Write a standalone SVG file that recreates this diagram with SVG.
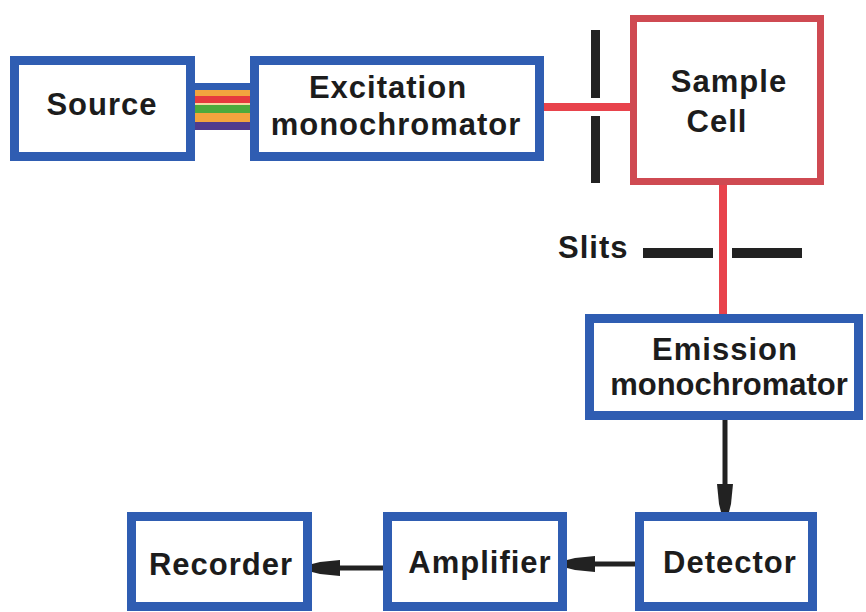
<svg xmlns="http://www.w3.org/2000/svg" width="866" height="612" viewBox="0 0 866 612">
  <style>
    .box { fill: #ffffff; stroke: #2f5db2; stroke-width: 9; }
    .cell { fill: #ffffff; stroke: #cf4a52; stroke-width: 7; }
    .lbl { font-family: "Liberation Sans", Arial, sans-serif; font-weight: bold; font-size: 31px; letter-spacing: 1px; fill: #1c1c1c; text-anchor: middle; }
    .beam { stroke: #e8434c; stroke-width: 8; fill: none; }
    .slit { fill: #222222; }
    .sig { stroke: #222222; stroke-width: 5; fill: none; marker-end: url(#head); }
  </style>
  <defs>
    <marker id="head" markerUnits="userSpaceOnUse" viewBox="-30 -10 32 20" refX="0" refY="0" markerWidth="32" markerHeight="20" orient="auto">
      <path d="M0,-4 L-8,-6 L-28,-8 L-28,8 L-8,6 L0,4 Z" fill="#222222"/>
    </marker>
  </defs>
  <rect width="866" height="612" fill="#ffffff"/>

  <!-- light path, slits and signal connectors -->
  <g id="connectors">
    <!-- polychromatic light band between source and excitation monochromator -->
    <rect x="195" y="83" width="55" height="7" fill="#2f5db2"/>
    <rect x="195" y="90" width="55" height="6" fill="#f2a43e"/>
    <rect x="195" y="96" width="55" height="7" fill="#e63a3d"/>
    <rect x="195" y="103" width="55" height="2" fill="#f4d9a0"/>
    <rect x="195" y="105" width="55" height="8" fill="#4caa3c"/>
    <rect x="195" y="113" width="55" height="9" fill="#f2a43e"/>
    <rect x="195" y="122" width="55" height="8" fill="#4f3b8e"/>
    <!-- excitation beam and sample emission beam -->
    <line class="beam" x1="544" y1="107" x2="632" y2="107"/>
    <line class="beam" x1="723" y1="184" x2="723" y2="316"/>
    <!-- entrance slit -->
    <rect class="slit" x="591" y="30" width="9" height="68"/>
    <rect class="slit" x="591" y="116" width="9" height="67"/>
    <!-- exit slit -->
    <rect class="slit" x="643" y="248" width="70" height="10"/>
    <rect class="slit" x="732" y="248" width="70" height="10"/>
    <text class="lbl" x="558" y="258" style="text-anchor:start">Slits</text>
    <!-- electrical signal path -->
    <line class="sig" x1="725" y1="420" x2="725" y2="512"/>
    <line class="sig" x1="635" y1="564" x2="567" y2="564"/>
    <line class="sig" x1="383" y1="568" x2="312" y2="568"/>
  </g>

  <g id="source">
    <rect class="box" x="14.5" y="60.5" width="176" height="96"/>
    <text class="lbl" x="102" y="115">Source</text>
  </g>

  <g id="excitation">
    <rect class="box" x="254.5" y="60.5" width="285" height="96"/>
    <text class="lbl" x="388" y="98">Excitation</text>
    <text class="lbl" x="396" y="135">monochromator</text>
  </g>

  <g id="sample-cell">
    <rect class="cell" x="633.5" y="18.5" width="187" height="163"/>
    <text class="lbl" x="729" y="92">Sample</text>
    <text class="lbl" x="717" y="132">Cell</text>
  </g>

  <g id="emission">
    <rect class="box" x="589.5" y="318.5" width="269" height="97"/>
    <text class="lbl" x="725" y="360">Emission</text>
    <text class="lbl" x="729" y="395" style="letter-spacing:0px">monochromator</text>
  </g>

  <g id="detector">
    <rect class="box" x="639.5" y="516.5" width="173" height="90"/>
    <text class="lbl" x="730" y="573">Detector</text>
  </g>

  <g id="amplifier">
    <rect class="box" x="387.5" y="516.5" width="175" height="90"/>
    <text class="lbl" x="480" y="573">Amplifier</text>
  </g>

  <g id="recorder">
    <rect class="box" x="131.5" y="516.5" width="176" height="90"/>
    <text class="lbl" x="221" y="575">Recorder</text>
  </g>
</svg>
